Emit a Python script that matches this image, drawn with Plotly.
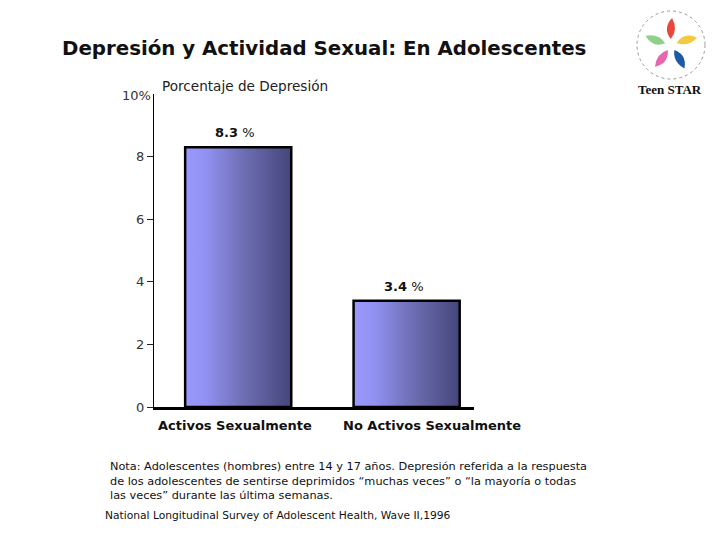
import math
import plotly.graph_objects as go

# ---- data ----
categories = ["Activos Sexualmente", "No Activos Sexualmente"]
values = [8.3, 3.4]
value_labels = ["<b>8.3</b> %", "<b>3.4</b> %"]
tick_vals = [0, 2, 4, 6, 8]
tick_text = ["0", "2", "4", "6", "8"]
title_text = "Depresión y Actividad Sexual: En Adolescentes"
y_title = "Porcentaje de Depresión"
note_lines = [
    "Nota: Adolescentes (hombres) entre 14 y 17 años. Depresión referida a la respuesta",
    "de los adolescentes de sentirse deprimidos “muchas veces” o “la mayoría o todas",
    "las veces” durante las última semanas.",
]
source_text = "National Longitudinal Survey of Adolescent Health, Wave II,1996"

W, H = 720, 540
K = 0.985  # observed vertical scale of the captured page


def px(x):
    return x / W


def py(y):
    return 1 - (y / K) / H


BAR_W = 0.63
label_xshift = [-3, 25]
value_yshift = [15, 14]
fig = go.Figure()
for i, (cat, v) in enumerate(zip(categories, values)):
    x0, x1 = i - BAR_W / 2, i + BAR_W / 2
    fig.add_trace(go.Scatter(
        x=[x0, x1, x1, x0, x0], y=[0, 0, v, v, 0],
        mode="lines", fill="toself",
        fillgradient=dict(type="horizontal",
                          colorscale=[[0, "#9a9aff"], [0.2, "#9191f2"], [0.55, "#6e6eb4"], [1, "#44467a"]]),
        line=dict(color="black", width=2.5),
        hoverinfo="skip", showlegend=False,
    ))
    fig.add_annotation(x=i, y=v, xref="x", yref="y", text=value_labels[i],
                       showarrow=False, yshift=value_yshift[i], xshift=-3,
                       font=dict(family="DejaVu Sans", size=13, color="#111"))
    fig.add_annotation(x=i, y=0, xref="x", yref="y", text="<b>" + cat + "</b>",
                       showarrow=False, yshift=-18, xshift=label_xshift[i],
                       font=dict(family="DejaVu Sans", size=13, color="#111"))

fig.update_layout(
    width=W, height=H, margin=dict(l=0, r=0, t=0, b=0),
    paper_bgcolor="white", plot_bgcolor="white",
    xaxis=dict(domain=[px(154), px(474)], range=[-0.5, 1.4],
               showticklabels=False, showgrid=False, zeroline=False,
               showline=True, linecolor="black", linewidth=3, ticks=""),
    yaxis=dict(domain=[py(407), py(94)], range=[0, 10],
               tickvals=tick_vals, ticktext=tick_text,
               ticks="outside", ticklen=6, tickcolor="#222", tickwidth=1,
               showgrid=False, zeroline=False,
               showline=True, linecolor="black", linewidth=1,
               tickfont=dict(family="DejaVu Sans", size=13, color="#333")),
)

fig.add_annotation(x=px(60), y=py(48), xref="paper", yref="paper", xanchor="left", yanchor="middle",
                   text="<b>" + title_text + "</b>", showarrow=False,
                   font=dict(family="DejaVu Sans", size=19.8, color="#111"))
fig.add_annotation(x=px(153), y=py(95), xref="paper", yref="paper", xanchor="right", yanchor="middle",
                   text="10%", showarrow=False,
                   font=dict(family="DejaVu Sans", size=13, color="#333"))
fig.add_annotation(x=px(160), y=py(86), xref="paper", yref="paper", xanchor="left", yanchor="middle",
                   text=y_title, showarrow=False,
                   font=dict(family="DejaVu Sans", size=13.6, color="#222"))
fig.add_annotation(x=px(108), y=py(481), xref="paper", yref="paper",
                   xanchor="left", yanchor="middle", align="left",
                   text="<br>".join(note_lines), showarrow=False,
                   font=dict(family="DejaVu Sans", size=11.3, color="#111"))
fig.add_annotation(x=px(103), y=py(515), xref="paper", yref="paper", xanchor="left", yanchor="middle",
                   text=source_text, showarrow=False,
                   font=dict(family="DejaVu Sans", size=10.7, color="#111"))

# ---- logo (decorative) ----
cx, cy = 671, 45
petal_colors = ["#e8473c", "#f5c842", "#1d5aa5", "#e866b0", "#8fd08a"]
angles = [-92, -20, 56, 122, 196]
shapes = []
for ang, col in zip(angles, petal_colors):
    a = math.radians(ang)
    ux, uy = math.cos(a), math.sin(a)
    nx, ny = -uy, ux
    r0, r1, wdt = 6, 27, 8
    p0 = (cx + ux * r0, cy + uy * r0)
    pm1 = (cx + ux * 15 + nx * wdt, cy + uy * 15 + ny * wdt)
    pm2 = (cx + ux * 17 - nx * wdt, cy + uy * 17 - ny * wdt)
    tip = (cx + ux * r1 + nx * 2, cy + uy * r1 + ny * 2)
    path = "M {} {} Q {} {} {} {} Q {} {} {} {} Z".format(
        px(p0[0]), py(p0[1]), px(pm1[0]), py(pm1[1]), px(tip[0]), py(tip[1]),
        px(pm2[0]), py(pm2[1]), px(p0[0]), py(p0[1]))
    shapes.append(dict(type="path", xref="paper", yref="paper", path=path,
                       fillcolor=col, line=dict(width=0)))
shapes.append(dict(type="circle", xref="paper", yref="paper",
                   x0=px(cx - 34), x1=px(cx + 34), y0=py(cy + 34), y1=py(cy - 34),
                   line=dict(color="#999", width=1, dash="dot")))
fig.update_layout(shapes=shapes)
fig.add_annotation(x=px(670), y=py(89), xref="paper", yref="paper", xanchor="center", yanchor="middle",
                   text="<b>Teen STAR</b>", showarrow=False,
                   font=dict(family="Liberation Serif", size=13, color="#111"))

css_fix = (
    "var s=document.createElement('style');"
    "s.textContent='html,body{margin:0;padding:0;width:720px;height:540px;overflow:hidden;}';"
    "document.head.appendChild(s);"
)
fig.write_html(
    "out.html",
    config={"displayModeBar": False, "responsive": False},
    post_script=css_fix,
)
